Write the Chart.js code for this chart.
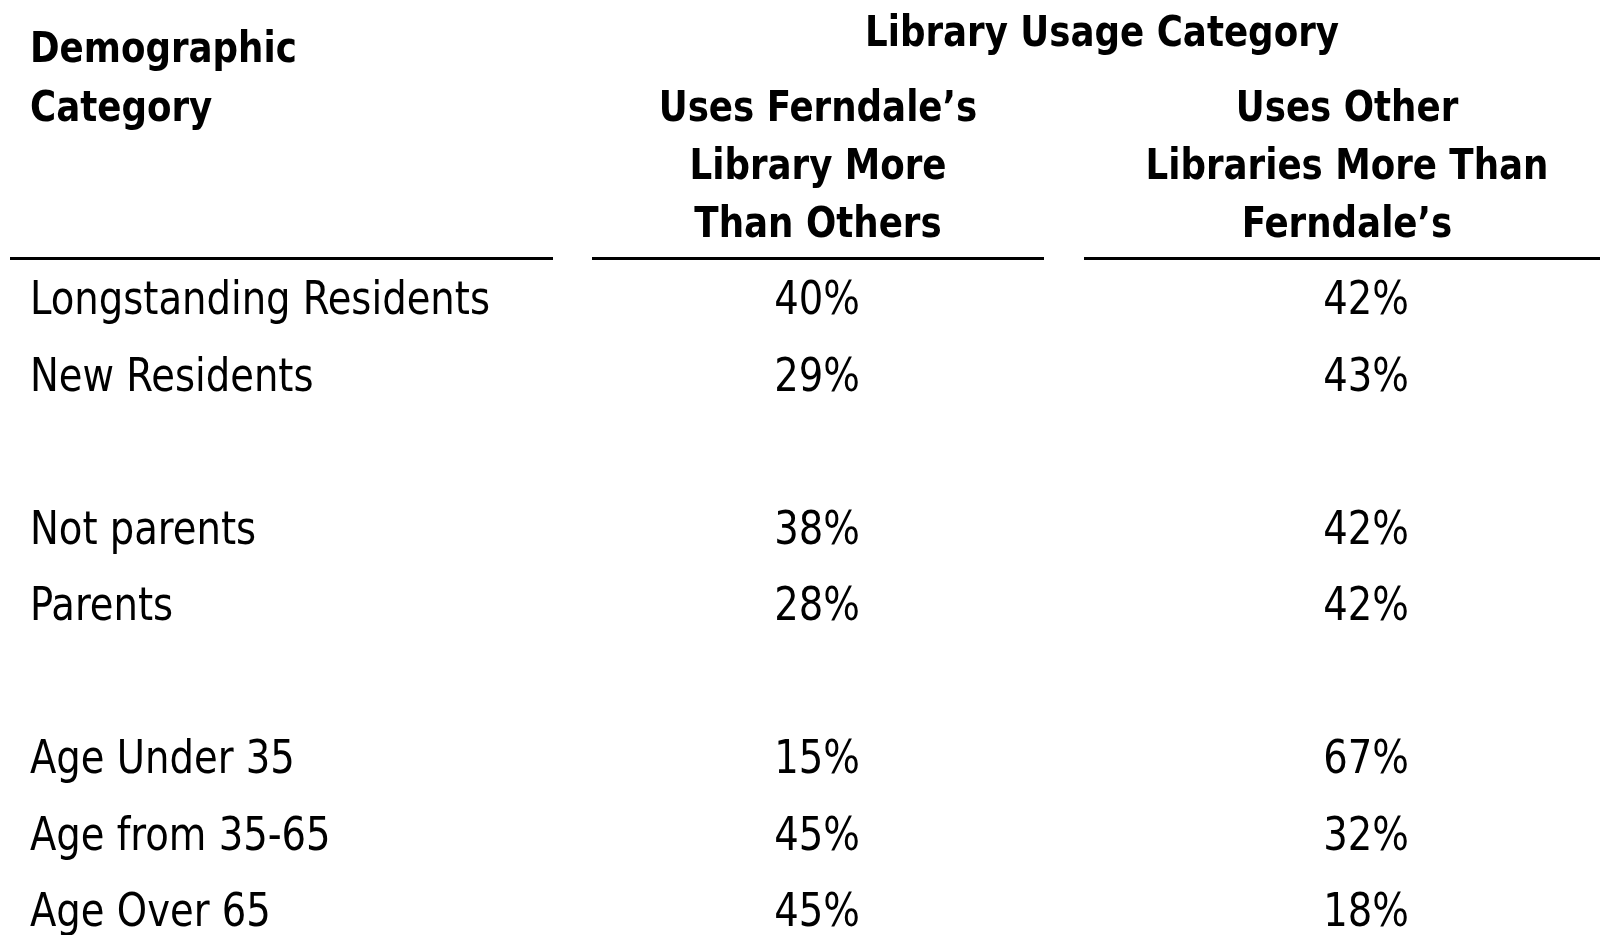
<!DOCTYPE html>
<html>
<head>
<meta charset="utf-8">
<script src="https://cdn.jsdelivr.net/npm/chart.js@4.4.1/dist/chart.umd.min.js"></script>
<style>
  html, body { margin: 0; padding: 0; background: #fff; overflow: hidden; }
  #wrap { width: 1600px; height: 935px; position: relative; }
</style>
</head>
<body>
<div id="wrap"><canvas id="table"></canvas></div>
<script>
// table contents ("" rows are the blank gaps between groups)
const categories = ["Longstanding Residents", "New Residents", "", "Not parents", "Parents", "", "Age Under 35", "Age from 35-65", "Age Over 65"];
const usesFerndale = [40, 29, null, 38, 28, null, 15, 45, 45];
const usesOther = [42, 43, null, 42, 42, null, 67, 32, 18];

const rowHeader = ["Demographic", "Category"];
const groupHeader = "Library Usage Category";
const colHeaders = [
  ["Uses Ferndale\u2019s", "Library More", "Than Others"],
  ["Uses Other", "Libraries More Than", "Ferndale\u2019s"],
];

// layout (pixels)
const FONT = "'DejaVu Sans Condensed', 'DejaVu Sans', sans-serif";
const firstRow = 314;   // baseline of first body row
const rowStep = 76.5;
const colX = { label: 30, c1: 817, c2: 1366, h1: 818, h2: 1347, group: 1102 };
const rules = [[10, 553], [592, 1044], [1084, 1600]];
const ruleY = 258.5;
const headBase = [62, 120.5, 178.5, 236.5];

const ctx0 = document.createElement("canvas").getContext("2d");
function fitScale(text, font, target) {
  ctx0.font = font;
  return target / ctx0.measureText(text).width;
}
const regFont = "46px " + FONT;
const boldFont = "bold 42px " + FONT;
const regSx = fitScale("Longstanding Residents", regFont, 460);
const boldSx = fitScale("Libraries More Than", boldFont, 403);

function squeezeText(ctx, text, x, y, align, bold) {
  ctx.save();
  ctx.translate(x, y);
  ctx.scale(bold ? boldSx : regSx, 1);
  ctx.font = bold ? boldFont : regFont;
  ctx.textAlign = align;
  ctx.textBaseline = "alphabetic";
  ctx.fillStyle = "#000";
  ctx.fillText(text, 0, 0);
  ctx.restore();
}

function points(values, x) {
  const out = [];
  values.forEach((v, i) => { if (v !== null && v !== "") out.push({ x: x, y: i, v: v }); });
  return out;
}

const tablePlugin = {
  id: "tableText",
  afterDatasetsDraw(chart) {
    const ctx = chart.ctx;
    const xs = chart.scales.x, ys = chart.scales.y;
    const px = (v) => xs.getPixelForValue(v);
    const py = (pix) => ys.getPixelForValue((pix - firstRow) / rowStep);

    // header
    squeezeText(ctx, rowHeader[0], px(colX.label), py(headBase[0]), "left", true);
    squeezeText(ctx, rowHeader[1], px(colX.label), py(headBase[1]), "left", true);
    squeezeText(ctx, groupHeader, px(colX.group), py(46), "center", true);
    colHeaders[0].forEach((t, i) => squeezeText(ctx, t, px(colX.h1), py(headBase[i + 1]), "center", true));
    colHeaders[1].forEach((t, i) => squeezeText(ctx, t, px(colX.h2), py(headBase[i + 1]), "center", true));

    // rules under the header
    ctx.save();
    ctx.strokeStyle = "#000";
    ctx.lineWidth = 3;
    rules.forEach(([a, b]) => {
      ctx.beginPath();
      ctx.moveTo(px(a), py(ruleY));
      ctx.lineTo(px(b), py(ruleY));
      ctx.stroke();
    });
    ctx.restore();

    // body cells
    chart.data.datasets.forEach((ds, di) => {
      const meta = chart.getDatasetMeta(di);
      meta.data.forEach((el, i) => {
        const d = ds.data[i];
        if (di === 0) squeezeText(ctx, d.v, el.x, el.y, "left", false);
        else squeezeText(ctx, d.v + "%", el.x, el.y, "center", false);
      });
    });
  }
};

new Chart(document.getElementById("table"), {
  type: "scatter",
  data: {
    datasets: [
      { label: "Demographic Category", data: points(categories, colX.label), pointRadius: 0 },
      { label: "Uses Ferndale's Library More Than Others", data: points(usesFerndale, colX.c1), pointRadius: 0 },
      { label: "Uses Other Libraries More Than Ferndale's", data: points(usesOther, colX.c2), pointRadius: 0 },
    ],
  },
  options: {
    responsive: true,
    maintainAspectRatio: false,
    animation: false,
    layout: { padding: 0 },
    plugins: { legend: { display: false }, tooltip: { enabled: false } },
    scales: {
      x: { type: "linear", display: false, min: 0, max: 1600 },
      y: { type: "linear", display: false, reverse: true, min: -firstRow / rowStep, max: (935 - firstRow) / rowStep },
    },
  },
  plugins: [tablePlugin],
});
</script>
</body>
</html>
